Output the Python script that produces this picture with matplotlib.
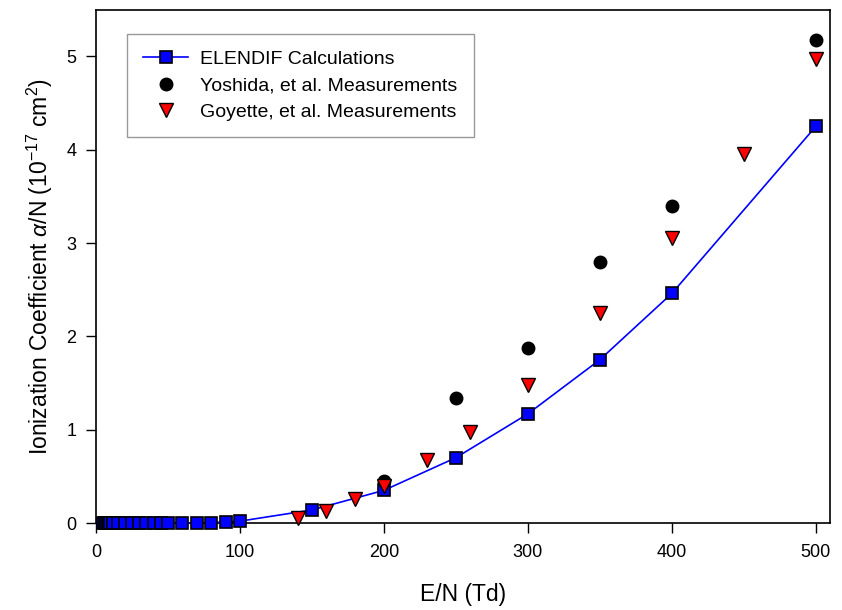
import numpy as np
import matplotlib
matplotlib.use("Agg")
import matplotlib.pyplot as plt

# ELENDIF calculations
elendif_en = [5, 6, 7, 8, 9, 10, 12, 15, 20, 25, 30, 35, 40, 45, 50,
              60, 70, 80, 90, 100, 150, 200, 250, 300, 350, 400, 500]
elendif_alpha = [0, 0, 0, 0, 0, 0, 0, 0, 0, 0, 0, 0, 0, 0, 0,
                 0, 0, 0.005, 0.01, 0.02, 0.14, 0.35, 0.70, 1.17, 1.75, 2.46, 4.25]

# Yoshida, et al.
yoshida_en = [200, 250, 300, 350, 400, 500]
yoshida_alpha = [0.45, 1.34, 1.88, 2.80, 3.40, 5.18]

# Goyette, et al.
goyette_en = [140, 160, 180, 200, 230, 260, 300, 350, 400, 450, 500]
goyette_alpha = [0.05, 0.13, 0.26, 0.40, 0.67, 0.98, 1.48, 2.25, 3.05, 3.95, 4.97]

plt.rcParams['font.family'] = ['Liberation Sans', 'DejaVu Sans']
plt.rcParams['mathtext.fontset'] = 'custom'
plt.rcParams['mathtext.rm'] = 'Liberation Sans'
plt.rcParams['mathtext.it'] = 'Liberation Sans:italic'

fig = plt.figure(figsize=(8.42, 6.10), dpi=100)
ax = fig.add_axes([0.114, 0.1426, 0.872, 0.8414])

ax.plot(elendif_en, elendif_alpha, color='#0000ff', lw=1.2, marker='s', ms=9,
        mfc='#0000ff', mec='black', mew=1.2, clip_on=False, zorder=3,
        label='ELENDIF Calculations')
ax.plot(yoshida_en, yoshida_alpha, ls='none', marker='o', ms=9,
        mfc='black', mec='black', clip_on=False, zorder=4,
        label='Yoshida, et al. Measurements')
ax.plot(goyette_en, goyette_alpha, ls='none', marker='v', ms=10,
        mfc='#ff0000', mec='black', mew=1.0, clip_on=False, zorder=4,
        label='Goyette, et al. Measurements')

ax.set_xlim(0, 510)
ax.set_ylim(0, 5.5)
ax.set_xticks([0, 100, 200, 300, 400, 500])
ax.set_yticks([0, 1, 2, 3, 4, 5])
ax.tick_params(direction='out', length=7, width=1, labelsize=13)
ax.tick_params(axis='x', pad=8)
ax.tick_params(axis='y', pad=7)
for s in ax.spines.values():
    s.set_linewidth(1.2)

ax.set_xlabel('E/N (Td)', fontsize=16.5, labelpad=16)
ax.set_ylabel(r'Ionization Coefficient $\alpha$/N (10$^{-17}$ cm$^2$)', fontsize=16.5, labelpad=8)

leg = ax.legend(loc='upper left', bbox_to_anchor=(0.042, 0.953), fontsize=14,
                frameon=True, fancybox=False, edgecolor='#808080',
                borderpad=0.85, handlelength=2.3, labelspacing=0.45,
                borderaxespad=0, handletextpad=0.6)
leg.get_frame().set_linewidth(1.0)

fig.savefig('out.png', dpi=100)
